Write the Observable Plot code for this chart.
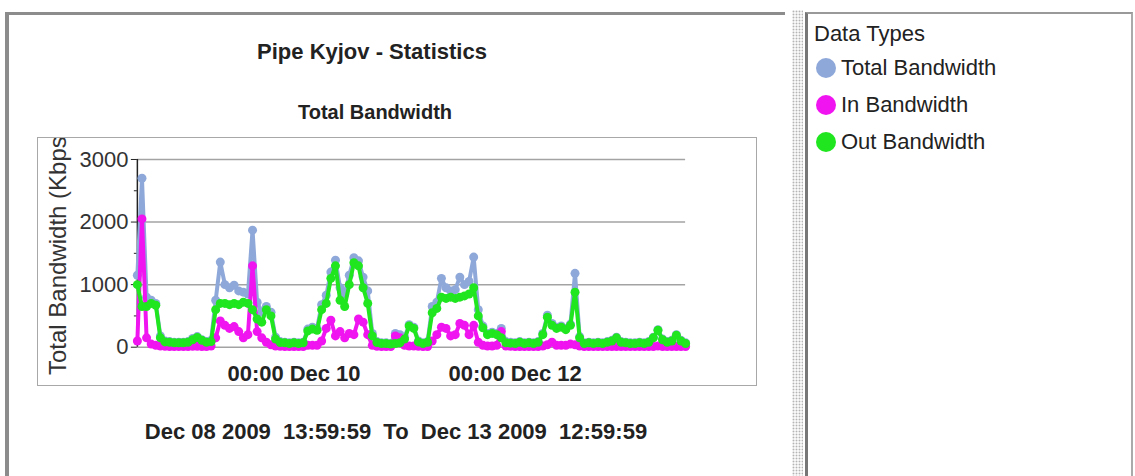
<!DOCTYPE html>
<html>
<head>
<meta charset="utf-8">
<script src="https://cdn.jsdelivr.net/npm/d3@7"></script>
<script src="https://cdn.jsdelivr.net/npm/@observablehq/plot@0.6"></script>
<style>
html, body { margin: 0; padding: 0; background: #fff; width: 1135px; height: 476px; overflow: hidden;
  font-family: "Liberation Sans", Arial, sans-serif; color: #222; }
.abs { position: absolute; }
#leftPanel { left: 5px; top: 12px; width: 780px; height: 470px; border-top: 3px solid #8c8c8c; border-left: 4px solid #8c8c8c; box-sizing: border-box; background: #fff; }
#splitter { left: 792px; top: 10px; width: 11px; height: 466px;
  background-color: #f7f7f7;
  background-image: radial-gradient(circle, #b4b4b4 0.8px, transparent 1.1px);
  background-size: 3px 3px; }
#rightPanel { left: 805px; top: 12px; width: 328px; height: 470px; box-sizing: border-box;
  border-left: 3px solid #777; border-top: 2px solid #999; border-right: 2px solid #aaa; background: #fff; }
#title { left: 172px; width: 400px; top: 39px; text-align: center; font-weight: bold; font-size: 22px; line-height: 26px; }
#subtitle { left: 175px; width: 400px; top: 100px; text-align: center; font-weight: bold; font-size: 20px; line-height: 24px; }
#box { left: 37px; top: 137px; width: 720px; height: 249px; border: 1px solid #a8a8a8; box-sizing: border-box; overflow: hidden; }
#ylabel { left: -98px; top: 106px; width: 236px; height: 26px; line-height: 26px; font-size: 24px; color: #333;
  transform: rotate(-90deg); transform-origin: 50% 50%; text-align: left; white-space: nowrap; }
#chart { left: 0px; top: 0px; }
#caption { left: 96px; width: 600px; top: 419px; text-align: center; font-weight: bold; font-size: 22px; line-height: 26px; white-space: pre; }
#legendTitle { left: 814px; top: 21px; font-size: 22px; line-height: 26px; }
.legRow { left: 816px; height: 26px; line-height: 26px; font-size: 22px; white-space: nowrap; }
.legDot { display: inline-block; width: 20px; height: 20px; border-radius: 50%; vertical-align: -3px; margin-right: 5px; }
svg g[aria-label="x-axis tick label"] text { font-weight: bold; }
</style>
</head>
<body>
<div id="leftPanel" class="abs"></div>
<div id="splitter" class="abs"></div>
<div id="rightPanel" class="abs"></div>
<div id="title" class="abs">Pipe Kyjov - Statistics</div>
<div id="subtitle" class="abs">Total Bandwidth</div>
<div id="box" class="abs">
  <div id="ylabel" class="abs">Total Bandwidth (Kbps)</div>
  <div id="chart" class="abs"></div>
</div>
<div id="caption" class="abs">Dec 08 2009  13:59:59  To  Dec 13 2009  12:59:59</div>
<div id="legendTitle" class="abs">Data Types</div>
<div id="legend"></div>
<script>
// ---- data (hourly samples, Dec 08 2009 13:59:59 -> Dec 13 2009 12:59:59) ----
const seriesNames = ["Total Bandwidth", "In Bandwidth", "Out Bandwidth"];
const seriesColors = ["#8ea8da", "#f014f0", "#1fe61f"];

const totalBandwidth = [
  1150, 2700, 800, 750, 700, 180, 100, 90, 80, 80,
  80, 90, 140, 170, 120, 90, 110, 750, 1360, 1000,
  950, 990, 900, 880, 850, 1870, 720, 560, 650, 560,
  160, 90, 80, 70, 80, 70, 80, 290, 320, 300,
  680, 830, 1200, 1390, 950, 850, 1150, 1430, 1380, 1120,
  900, 220, 90, 70, 70, 60, 220, 200, 160, 360,
  320, 100, 70, 90, 650, 720, 1100, 950, 900, 920,
  1120, 1000, 1050, 1440, 600, 340, 220, 240, 220, 300,
  90, 80, 70, 90, 70, 80, 70, 90, 220, 510,
  380, 320, 340, 300, 370, 1180, 170, 70, 80, 70,
  80, 70, 90, 110, 160, 90, 80, 70, 70, 80,
  70, 90, 160, 280, 130, 90, 110, 200, 110, 70
];
const inBandwidth = [
  100, 2050, 150, 50, 30, 20, 15, 10, 10, 10,
  10, 10, 15, 15, 10, 10, 20, 150, 420, 350,
  300, 330, 250, 150, 200, 1300, 250, 150, 80, 40,
  20, 15, 10, 10, 10, 10, 10, 30, 30, 30,
  100, 300, 430, 180, 250, 150, 220, 200, 450, 400,
  200, 30, 15, 10, 10, 10, 180, 150, 30, 20,
  20, 15, 10, 10, 100, 200, 320, 300, 180, 200,
  380, 350, 200, 350, 80, 30, 20, 20, 30, 250,
  20, 15, 10, 10, 10, 10, 10, 10, 20, 40,
  80, 30, 30, 30, 50, 40, 20, 10, 10, 10,
  10, 10, 10, 10, 10, 10, 10, 10, 10, 10,
  10, 10, 10, 20, 10, 10, 10, 10, 10, 10
];
const outBandwidth = [
  1000, 650, 650, 700, 670, 150, 85, 80, 70, 70,
  70, 80, 120, 155, 110, 80, 90, 600, 700, 700,
  680, 700, 680, 720, 700, 600, 450, 400, 600, 500,
  130, 75, 70, 60, 70, 60, 70, 260, 290, 270,
  600, 700, 1100, 1300, 750, 650, 1000, 1350, 1300, 950,
  700, 180, 75, 60, 60, 50, 60, 70, 130, 340,
  300, 85, 60, 80, 550, 620, 800, 780, 800, 780,
  800, 820, 850, 950, 500, 310, 200, 220, 200, 150,
  70, 65, 60, 80, 60, 70, 60, 80, 200, 480,
  350, 300, 320, 280, 350, 880, 150, 60, 70, 60,
  70, 60, 80, 100, 150, 80, 70, 60, 60, 70,
  60, 80, 150, 270, 120, 80, 100, 190, 100, 60
];
const seriesValues = [totalBandwidth, inBandwidth, outBandwidth];

const startTime = Date.UTC(2009, 11, 8, 13, 59, 59);
const times = totalBandwidth.map((_, i) => new Date(startTime + i * 3600 * 1000));

const xTicks = [new Date(Date.UTC(2009, 11, 10, 0, 0, 0)), new Date(Date.UTC(2009, 11, 12, 0, 0, 0))];
const yTicks = [0, 1000, 2000, 3000];
const yMinorTicks = [500, 1500, 2500];

// ---- build ----
const tables = seriesValues.map((vals, s) => vals.map((v, i) => ({t: times[i], v, s: seriesNames[s]})));
const fmtX = d3.utcFormat("%H:%M %b %d");

const seriesMarks = [];
tables.forEach((tbl, s) => {
  seriesMarks.push(Plot.line(tbl, {x: "t", y: "v", stroke: seriesColors[s], strokeWidth: 4, curve: "linear"}));
  seriesMarks.push(Plot.dot(tbl, {x: "t", y: "v", r: 4.5, fill: seriesColors[s], stroke: "none"}));
});

const chart = Plot.plot({
  width: 719, height: 247,
  marginLeft: 99, marginRight: 71, marginTop: 21, marginBottom: 38,
  style: {fontFamily: "'Liberation Sans', Arial, sans-serif", color: "#222", background: "transparent", overflow: "visible"},
  x: {type: "utc", domain: [times[0], times[times.length - 1]]},
  y: {domain: [0, 3000]},
  marks: [
    Plot.gridY({ticks: yTicks, stroke: "#a3a3a3", strokeOpacity: 1, strokeWidth: 1.5}),
    Plot.axisY({ticks: yTicks, tickSize: 6, tickPadding: 3, tickFormat: d3.format("d"), fontSize: 22, label: null, fill: "#333"}),
    Plot.axisY({ticks: yMinorTicks, tickSize: 3, tickFormat: () => "", label: null}),
    Plot.ruleX([times[0]], {y1: 0, y2: 3000, stroke: "#222", strokeWidth: 1.5}),
    Plot.axisX({ticks: xTicks, tickSize: 0, tickPadding: 18, tickFormat: fmtX, fontSize: 22, fontWeight: "bold", label: null, fill: "#222"}),
    ...seriesMarks
  ]
});
document.getElementById("chart").appendChild(chart);

// legend
const legend = document.getElementById("legend");
const legTops = [55, 92, 129];
seriesNames.forEach((name, s) => {
  const row = document.createElement("div");
  row.className = "abs legRow";
  row.style.top = legTops[s] + "px";
  const dot = document.createElement("span");
  dot.className = "legDot";
  dot.style.background = seriesColors[s];
  row.appendChild(dot);
  row.appendChild(document.createTextNode(name));
  legend.appendChild(row);
});
</script>
</body>
</html>
